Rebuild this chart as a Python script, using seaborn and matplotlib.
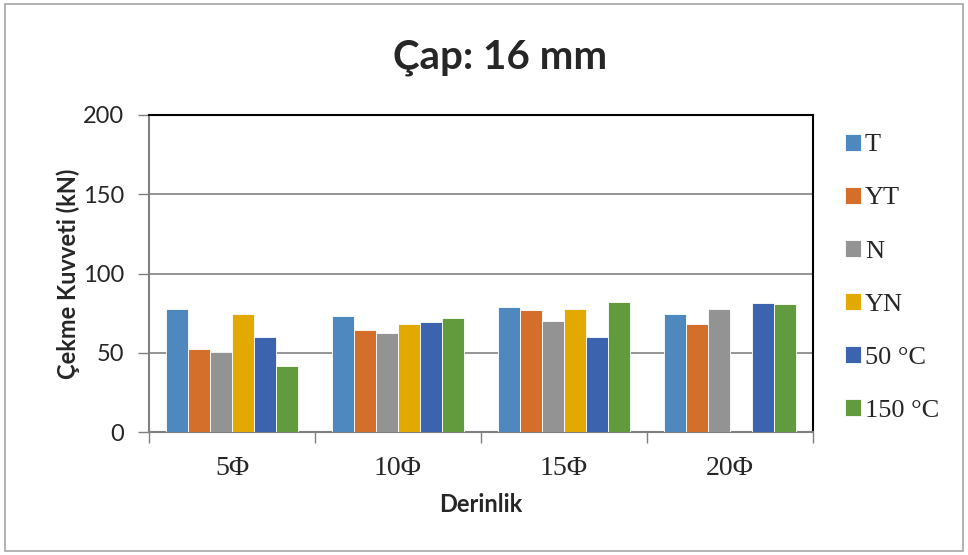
import numpy as np
import pandas as pd
import seaborn as sns
import matplotlib.pyplot as plt
from matplotlib.patches import Rectangle

# --- data ---
depths = ["5Φ", "10Φ", "15Φ", "20Φ"]
series = ["T", "YT", "N", "YN", "50 °C", "150 °C"]
t_vals = [77.4, 73.4, 79.1, 74.5]
yt_vals = [52.3, 64.1, 77.0, 68.2]
n_vals = [50.4, 62.5, 69.8, 77.8]
yn_vals = [74.5, 68.2, 77.8, np.nan]
c50_vals = [60.1, 69.4, 60.1, 81.6]
c150_vals = [41.6, 72.0, 81.8, 80.8]
colors = ["#4F88BE", "#D46F2B", "#939393", "#E2AA00", "#3C64AE", "#629A3E"]

rows = []
for name, vals in zip(series, [t_vals, yt_vals, n_vals, yn_vals, c50_vals, c150_vals]):
    for d, v in zip(depths, vals):
        rows.append({"Derinlik": d, "Kuvvet": v, "Seri": name})
df = pd.DataFrame(rows)

sns.set_style("white")
plt.rcParams["font.family"] = ["Lato", "DejaVu Sans"]
serif = ["Liberation Serif", "DejaVu Serif"]

fig = plt.figure(figsize=(9.68, 5.55), dpi=100)
ax = fig.add_axes([0.1539, 0.2216, 0.686, 0.5712])

sns.barplot(data=df, x="Derinlik", y="Kuvvet", hue="Seri", order=depths, hue_order=series,
            palette=colors, saturation=1, width=0.8, errorbar=None,
            edgecolor="white", linewidth=0.6, ax=ax, zorder=3)

# axes look
ax.set_ylim(0, 200)
ax.set_xlim(-0.5, 3.5)
ax.set_yticks([0, 50, 100, 150, 200])
ax.yaxis.grid(True, color="#8c8c8c", linewidth=1.3, zorder=0)
ax.set_axisbelow(True)
ax.tick_params(axis="y", labelsize=17, length=8, width=1, color="#7f7f7f", left=True, pad=10)
ax.set_xticks(range(len(depths)))
ax.set_xticklabels(depths, fontfamily=serif, fontsize=20)
ax.set_xticks([-0.5, 0.5, 1.5, 2.5, 3.5], minor=True)
ax.tick_params(axis="x", which="major", length=0, pad=17)
ax.tick_params(axis="x", which="minor", length=8, width=1, color="#7f7f7f", bottom=True)
for s in ["left", "bottom"]:
    ax.spines[s].set_color("#7f7f7f")
    ax.spines[s].set_linewidth(1.5)
for s in ["top", "right"]:
    ax.spines[s].set_color("black")
    ax.spines[s].set_linewidth(1.5)

ax.set_xlabel("Derinlik", fontsize=17, fontweight="bold", labelpad=9)
ax.set_ylabel("Çekme Kuvveti (kN)", fontsize=17, fontweight="bold", labelpad=2)
fig.text(0.517, 0.897, "Çap: 16 mm", ha="center", va="center", fontsize=29, fontweight="bold")

handles, labels = ax.get_legend_handles_labels()
ax.legend(handles, labels, loc="upper left", bbox_to_anchor=(0.862, 0.778), bbox_transform=fig.transFigure,
          frameon=False, prop={"family": serif, "size": 19},
          handlelength=0.6, handleheight=0.6, handletextpad=0.15, labelspacing=1.15, borderaxespad=0)

# light outer frame around the chart
fig.patches.append(Rectangle((0.005, 0.008), 0.99, 0.984, transform=fig.transFigure,
                             fill=False, edgecolor="#a6a6a6", linewidth=1.2))

fig.savefig("out.png", dpi=100)
